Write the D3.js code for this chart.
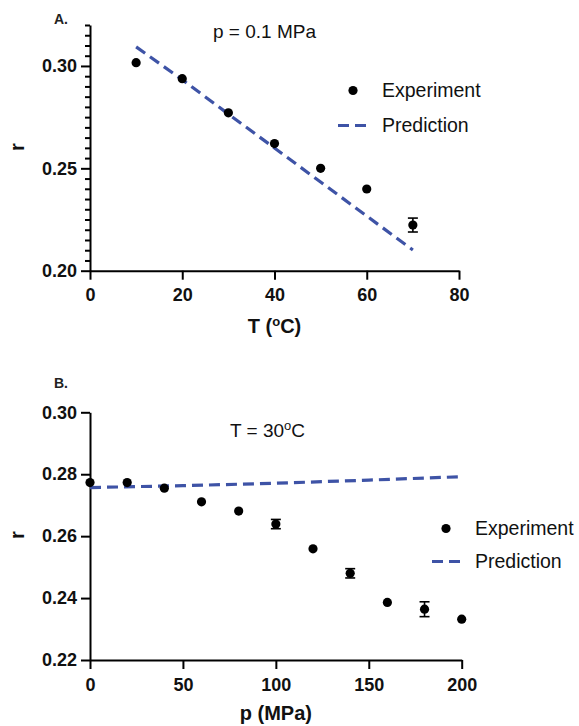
<!DOCTYPE html>
<html>
<head>
<meta charset="utf-8">
<script src="https://cdn.jsdelivr.net/npm/d3@7"></script>
<style>
  html, body { margin: 0; padding: 0; background: #fff; }
  svg { display: block; font-family: "Liberation Sans", Arial, Helvetica, sans-serif; }
</style>
</head>
<body>
<svg id="chart" width="579" height="726"></svg>
<script>
// ---- Panel A data (p = 0.1 MPa) ----
const tempA = [10, 20, 30, 40, 50, 60, 70];
const expA = [0.3016, 0.2938, 0.2771, 0.2621, 0.2500, 0.2399, 0.2223];
const errA = [0, 0, 0, 0, 0, 0, 0.0034];
const predA = [0.3093, 0.2933, 0.2765, 0.2599, 0.2433, 0.2267, 0.2101];
const xTicksA = [0, 20, 40, 60, 80];
const yTicksA = [0.20, 0.25, 0.30];

// ---- Panel B data (T = 30 oC) ----
const presB = [0, 20, 40, 60, 80, 100, 120, 140, 160, 180, 200];
const expB = [0.2773, 0.2773, 0.2755, 0.2711, 0.2681, 0.2639, 0.2559, 0.2480, 0.2386, 0.2364, 0.2332];
const errB = [0, 0, 0, 0, 0, 0.0015, 0, 0.0015, 0, 0.0024, 0];
const predPresB = [0, 50, 100, 150, 200];
const predB = [0.2757, 0.2763, 0.2771, 0.2781, 0.2792];
const xTicksB = [0, 50, 100, 150, 200];
const yTicksB = [0.22, 0.24, 0.26, 0.28, 0.30];

const legendLabels = ["Experiment", "Prediction"];
const BLUE = "#3e53a6";

const svg = d3.select("#chart");

function panel(cfg) {
  const g = svg.append("g");
  const x = d3.scaleLinear().domain(cfg.xDomain).range(cfg.xRange);
  const y = d3.scaleLinear().domain(cfg.yDomain).range(cfg.yRange);

  // x axis
  const xa = g.append("g")
    .attr("transform", `translate(0,${cfg.yRange[0]})`)
    .call(d3.axisBottom(x).tickValues(cfg.xTicks).tickSize(9).tickSizeOuter(0).tickPadding(9).tickFormat(d3.format("d")));
  // y axis
  const ya = g.append("g")
    .attr("transform", `translate(${cfg.xRange[0]},0)`)
    .call(d3.axisLeft(y).tickValues(cfg.yTicks).tickSize(9).tickSizeOuter(0).tickPadding(4).tickFormat(d3.format(".2f")));
  [xa, ya].forEach(a => {
    a.select(".domain").attr("stroke", "#000").attr("stroke-width", 2);
    a.selectAll(".tick line").attr("stroke", "#000").attr("stroke-width", 2);
    a.selectAll(".tick text").attr("fill", "#111").attr("font-size", 18).attr("font-weight", "bold")
      .attr("font-family", '"Liberation Sans", Arial, sans-serif');
  });
  if (cfg.minor) {
    const ma = g.append("g")
      .attr("transform", `translate(${cfg.xRange[0]},0)`)
      .call(d3.axisLeft(y).tickValues(cfg.minor).tickSize(5).tickSizeOuter(0).tickFormat(""));
    ma.select(".domain").remove();
    ma.selectAll(".tick line").attr("stroke", "#000").attr("stroke-width", 2);
  }

  // prediction line
  const line = d3.line().x(d => x(d[0])).y(d => y(d[1]));
  g.append("path")
    .datum(cfg.predX.map((v, i) => [v, cfg.pred[i]]))
    .attr("d", line)
    .attr("fill", "none")
    .attr("stroke", BLUE)
    .attr("stroke-width", 3.2)
    .attr("stroke-dasharray", "11,6");

  // error bars
  const eb = cfg.expX.map((v, i) => ({ x: v, y: cfg.exp[i], e: cfg.err[i] })).filter(d => d.e > 0);
  const ebg = g.append("g").attr("stroke", "#000").attr("stroke-width", 1.6);
  ebg.selectAll("line.v").data(eb).join("line")
    .attr("x1", d => x(d.x)).attr("x2", d => x(d.x))
    .attr("y1", d => y(d.y - d.e)).attr("y2", d => y(d.y + d.e));
  ebg.selectAll("line.t").data(eb).join("line")
    .attr("x1", d => x(d.x) - 5).attr("x2", d => x(d.x) + 5)
    .attr("y1", d => y(d.y + d.e)).attr("y2", d => y(d.y + d.e));
  ebg.selectAll("line.b").data(eb).join("line")
    .attr("x1", d => x(d.x) - 5).attr("x2", d => x(d.x) + 5)
    .attr("y1", d => y(d.y - d.e)).attr("y2", d => y(d.y - d.e));

  // experiment dots
  g.selectAll("circle.exp").data(cfg.expX.map((v, i) => [v, cfg.exp[i]])).join("circle")
    .attr("cx", d => x(d[0])).attr("cy", d => y(d[1])).attr("r", 4.6).attr("fill", "#000");

  // axis titles
  const xt = g.append("text")
    .attr("x", (cfg.xRange[0] + cfg.xRange[1]) / 2).attr("y", cfg.xTitleY)
    .attr("text-anchor", "middle").attr("font-size", 20).attr("font-weight", "bold").attr("fill", "#111");
  cfg.xTitle(xt);
  g.append("text")
    .attr("transform", `translate(24,${cfg.yTitleY}) rotate(-90)`)
    .attr("text-anchor", "middle").attr("font-size", 20).attr("font-weight", "bold").attr("fill", "#111")
    .text("r");

  // panel letter
  g.append("text").attr("x", cfg.letterPos[0]).attr("y", cfg.letterPos[1])
    .attr("font-size", 14).attr("font-weight", "bold").attr("fill", "#222").text(cfg.letter);

  // condition annotation
  const an = g.append("text").attr("x", cfg.annPos[0]).attr("y", cfg.annPos[1])
    .attr("font-size", 19).attr("fill", "#111");
  cfg.ann(an);

  // legend
  const L = cfg.legend;
  g.append("circle").attr("cx", L.dotX).attr("cy", L.y1 - 6.5).attr("r", 4.6).attr("fill", "#000");
  g.append("line").attr("x1", L.lineX0).attr("x2", L.lineX0 + 30)
    .attr("y1", L.y2 - 6.5).attr("y2", L.y2 - 6.5)
    .attr("stroke", BLUE).attr("stroke-width", 3.2).attr("stroke-dasharray", "11,6");
  g.append("text").attr("x", L.textX).attr("y", L.y1).attr("font-size", 19.5).attr("fill", "#111").text(legendLabels[0]);
  g.append("text").attr("x", L.textX).attr("y", L.y2).attr("font-size", 19.5).attr("fill", "#111").text(legendLabels[1]);
}

const minorA = d3.range(41).map(i => +(0.20 + i * 0.005).toFixed(3))
  .filter(v => v <= 0.32 && !yTicksA.some(t => Math.abs(t - v) < 1e-6));

panel({
  xDomain: [0, 80], xRange: [90, 459],
  yDomain: [0.20, 0.32], yRange: [270.7, 25],
  xTicks: xTicksA, yTicks: yTicksA, minor: minorA,
  expX: tempA, exp: expA, err: errA,
  predX: tempA, pred: predA,
  xTitleY: 333,
  xTitle: t => { t.append("tspan").text("T ("); t.append("tspan").attr("dy", -7).attr("font-size", 13).text("o"); t.append("tspan").attr("dy", 7).text("C)"); },
  yTitleY: 147,
  letter: "A.", letterPos: [54, 24],
  annPos: [213, 38],
  ann: t => t.text("p = 0.1 MPa"),
  legend: { dotX: 353, lineX0: 338, textX: 382, y1: 97, y2: 132 }
});

panel({
  xDomain: [0, 200], xRange: [90, 461.7],
  yDomain: [0.22, 0.30], yRange: [660, 412.3],
  xTicks: xTicksB, yTicks: yTicksB, minor: null,
  expX: presB, exp: expB, err: errB,
  predX: predPresB, pred: predB,
  xTitleY: 720,
  xTitle: t => t.text("p (MPa)"),
  yTitleY: 535,
  letter: "B.", letterPos: [54, 388],
  annPos: [230, 437],
  ann: t => { t.append("tspan").text("T = 30"); t.append("tspan").attr("dy", -7).attr("font-size", 13).text("o"); t.append("tspan").attr("dy", 7).text("C"); },
  legend: { dotX: 446, lineX0: 432, textX: 475, y1: 535, y2: 568 }
});
</script>
</body>
</html>
